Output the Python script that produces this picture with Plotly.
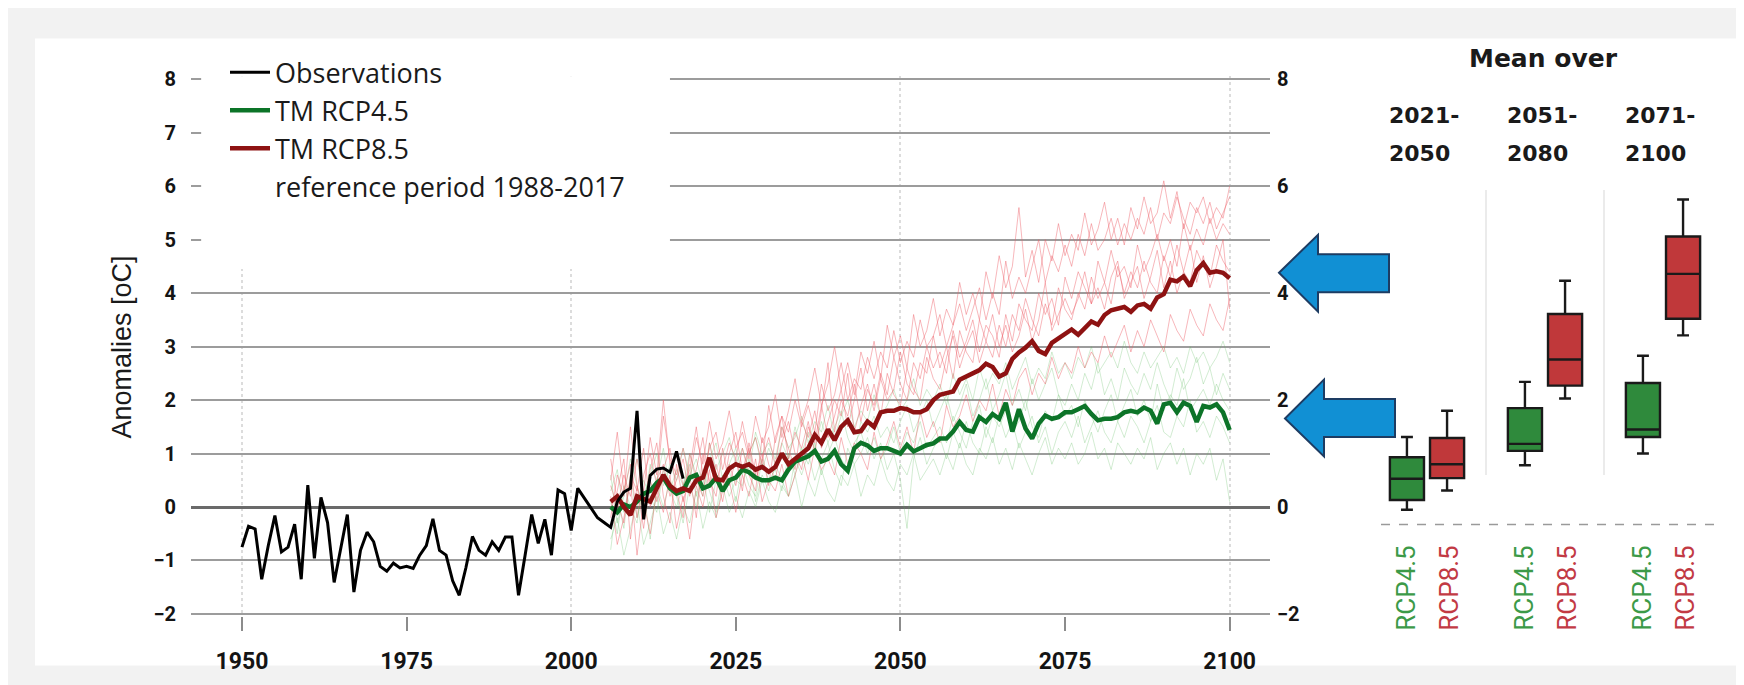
import plotly.graph_objects as go

# ---------------- data ----------------
obs_years = list(range(1950, 2018))
observations = [
    -0.75, -0.36, -0.41, -1.35, -0.72, -0.16, -0.84, -0.75, -0.32, -1.35,
    0.41, -0.96, 0.18, -0.29, -1.41, -0.78, -0.14, -1.59, -0.81, -0.47,
    -0.65, -1.11, -1.20, -1.05, -1.14, -1.11, -1.15, -0.90, -0.72, -0.22,
    -0.81, -0.90, -1.38, -1.65, -1.14, -0.55, -0.81, -0.90, -0.65, -0.81,
    -0.56, -0.56, -1.65, -0.90, -0.14, -0.68, -0.23, -0.90, 0.32, 0.25,
    -0.44, 0.35, 0.16, -0.02, -0.20, -0.29, -0.38, 0.10, 0.28, 0.35,
    1.80, -0.23, 0.59, 0.71, 0.73, 0.65, 1.04, 0.53,
]

proj_years = list(range(2006, 2101))
rcp85_mean = [
    0.10, 0.20, 0.00, -0.15, 0.20, 0.15, 0.10, 0.35, 0.60, 0.40,
    0.30, 0.35, 0.30, 0.50, 0.55, 0.92, 0.52, 0.50, 0.72, 0.80,
    0.75, 0.80, 0.70, 0.75, 0.66, 0.75, 1.00, 0.80, 0.90, 1.00,
    1.10, 1.35, 1.20, 1.45, 1.25, 1.50, 1.62, 1.40, 1.42, 1.60,
    1.50, 1.77, 1.80, 1.80, 1.85, 1.83, 1.77, 1.77, 1.83, 2.00,
    2.10, 2.13, 2.16, 2.38, 2.44, 2.50, 2.56, 2.68, 2.62, 2.44,
    2.50, 2.77, 2.89, 2.98, 3.10, 2.92, 2.86, 3.07, 3.16, 3.25,
    3.32, 3.22, 3.35, 3.47, 3.41, 3.59, 3.68, 3.71, 3.74, 3.65,
    3.77, 3.80, 3.71, 3.92, 3.98, 4.25, 4.22, 4.31, 4.13, 4.43,
    4.56, 4.38, 4.41, 4.38, 4.28,
]
rcp45_mean = [
    0.00, -0.10, 0.05, 0.00, 0.10, 0.25, 0.30, 0.45, 0.55, 0.35,
    0.25, 0.30, 0.55, 0.60, 0.35, 0.40, 0.55, 0.30, 0.50, 0.55,
    0.70, 0.65, 0.55, 0.50, 0.50, 0.55, 0.50, 0.70, 0.85, 0.90,
    0.95, 1.05, 0.85, 0.90, 1.05, 0.80, 0.68, 1.10, 1.20, 1.15,
    1.05, 1.10, 1.10, 1.05, 1.00, 1.16, 1.04, 1.10, 1.16, 1.19,
    1.28, 1.28, 1.41, 1.59, 1.44, 1.41, 1.68, 1.59, 1.74, 1.65,
    1.95, 1.41, 1.83, 1.47, 1.28, 1.56, 1.71, 1.65, 1.68, 1.77,
    1.77, 1.83, 1.89, 1.74, 1.62, 1.65, 1.65, 1.68, 1.77, 1.80,
    1.77, 1.86, 1.80, 1.56, 1.92, 1.95, 1.77, 1.95, 1.89, 1.59,
    1.89, 1.86, 1.92, 1.77, 1.44,
]

# individual model runs (thin lines)
rcp85_run_a = [
    0.5, 1.4, 0.3, 0.8, -0.2, 0.6, 1.0, 0.4, 1.7, 0.9,
    0.6, 1.1, 0.5, 1.3, 0.8, 1.6, 0.9, 1.2, 1.8, 1.1,
    1.4, 0.9, 1.7, 1.2, 1.5, 2.1, 1.3, 1.8, 2.4, 1.6,
    2.0, 2.6, 1.9, 2.3, 3.0, 2.2, 2.7, 2.1, 2.9, 2.5,
    3.1, 2.4, 3.4, 2.8, 3.2, 2.6, 3.6, 3.0, 3.3, 3.9,
    3.2, 3.7, 3.4, 4.2, 3.6, 4.0, 3.5, 4.4, 3.9, 4.7,
    4.1, 4.5, 5.6, 4.3, 4.8, 4.2, 5.0, 4.6, 5.3, 4.7,
    5.1, 4.8, 5.5, 4.9, 5.2, 5.7, 5.0, 5.4, 4.9, 5.6,
    5.2, 5.8, 5.3, 5.5, 6.1, 5.4, 5.9, 5.2, 5.7, 5.5,
    5.8, 5.3, 5.6, 5.4, 6.0,
]
rcp85_run_b = [
    -0.4, 0.3, 0.9, -0.6, 0.4, -0.1, 0.7, 1.2, 0.2, -0.3,
    0.8, 0.1, 0.6, -0.2, 1.0, 0.5, 0.2, 1.1, 0.4, 0.9,
    0.3, 1.2, 0.6, 1.0, 0.4, 1.3, 1.7, 0.9, 1.4, 1.1,
    1.6, 1.0, 1.8, 2.7, 1.4, 2.0, 1.7, 2.3, 1.6, 2.2,
    1.9, 2.5, 2.1, 2.8, 2.3, 2.0, 2.7, 2.4, 3.0, 2.6,
    2.9, 2.5, 3.3, 2.8, 3.1, 3.5, 2.9, 3.4, 3.2, 2.8,
    3.6, 3.1, 3.8, 3.5, 3.3, 4.0, 3.6, 3.9, 3.4, 4.3,
    3.9, 4.4, 4.1, 3.8, 4.6, 4.2, 4.8, 4.3, 4.5, 4.1,
    4.9, 4.4, 4.7, 5.1, 4.6, 5.0, 4.5, 5.3, 4.8, 5.2,
    4.9, 5.4, 5.0, 5.3, 5.1,
]
rcp85_run_c = [
    0.2, -0.7, -0.2, 0.5, -0.9, 0.1, -0.5, 0.3, -0.1, 0.6,
    -0.4, 0.2, -0.6, 0.4, 0.0, 0.7, -0.2, 0.3, 0.5, -0.1,
    0.6, 0.2, 0.9, 0.1, 0.5, 0.3, 0.8, 0.2, 0.6, 1.0,
    0.5, 1.1, 0.7, 0.9, 0.6, 1.3, 0.8, 1.2, 1.0, 0.7,
    1.4, 0.9, 1.2, 1.6, 1.1, 1.5, 1.0, 1.8, 1.3, 1.6,
    1.2, 1.9, 1.5, 1.7, 2.1, 1.6, 2.0, 1.8, 2.3, 1.7,
    2.2, 1.9, 2.4, 2.6, 2.1, 2.5, 2.3, 2.8, 2.4, 2.7,
    2.5, 3.0, 2.6, 2.9, 2.7, 3.2, 2.8, 3.1, 3.4, 2.9,
    3.3, 3.0, 3.5, 3.2, 2.9, 3.6, 3.3, 3.1, 3.7, 3.4,
    3.2, 3.8, 3.5, 3.3, 3.9,
]
rcp85_run_d = [
    0.9, 0.1, -0.3, 0.6, 0.3, 1.1, 0.0, 0.5, 0.8, 0.2,
    0.5, 0.9, 0.2, 0.7, 1.3, 0.4, 0.8, 0.3, 1.0, 1.4,
    0.7, 1.1, 0.5, 0.9, 1.3, 0.8, 1.5, 1.1, 0.7, 1.6,
    1.3, 1.8, 1.1, 1.6, 2.0, 1.7, 2.5, 1.4, 1.9, 2.3,
    1.8, 2.4, 2.0, 2.2, 2.9, 2.3, 2.1, 2.7, 2.5, 3.2,
    2.6, 3.0, 2.4, 3.3, 2.9, 2.7, 3.5, 3.1, 2.8, 3.4,
    3.0, 3.6, 3.3, 3.9, 3.5, 3.2, 3.8, 3.4, 4.1, 3.7,
    3.5, 4.0, 3.7, 4.3, 3.9, 4.2, 3.8, 4.5, 4.0, 4.4,
    4.1, 4.6, 4.2, 4.0, 4.7, 4.3, 4.9, 4.4, 4.2, 4.8,
    4.5, 4.3, 4.9, 4.6, 4.4,
]
rcp85_run_e = [
    -0.2, 0.6, 0.2, 1.5, 0.4, -0.4, 0.5, 0.1, 0.7, 1.1,
    0.3, -0.2, 1.0, 0.5, 0.2, 1.2, 0.6, 0.1, 0.8, 0.4,
    1.1, 0.6, 0.3, 1.3, 0.8, 0.5, 1.2, 1.6, 1.0, 0.7,
    1.5, 1.2, 1.9, 1.3, 1.7, 2.2, 1.5, 2.0, 2.6, 1.8,
    2.3, 1.7, 2.5, 2.1, 1.9, 2.6, 2.2, 2.0, 2.8, 2.4,
    2.2, 2.8, 3.2, 2.6, 3.0, 3.3, 2.7, 3.1, 3.6, 3.0,
    3.4, 2.9, 3.2, 3.7, 3.1, 3.5, 4.2, 3.3, 3.6, 3.9,
    3.6, 3.9, 4.4, 3.8, 4.1, 3.7, 4.3, 4.6, 3.9, 4.2,
    4.5, 3.9, 4.3, 4.8, 4.1, 4.6, 4.0, 4.4, 4.9, 4.2,
    4.7, 4.1, 4.5, 5.0, 3.7,
]
rcp85_run_f = [
    0.4, 0.0, 0.6, 0.2, 0.9, 0.3, 1.3, 0.6, 2.0, 0.8,
    1.0, 0.4, 0.7, 1.5, 0.6, 1.1, 1.4, 0.7, 1.2, 0.9,
    1.6, 1.0, 1.3, 0.8, 1.9, 1.2, 1.7, 1.4, 2.0, 1.5,
    1.9, 1.4, 2.3, 1.8, 2.1, 2.7, 2.0, 2.4, 2.2, 2.8,
    2.4, 2.9, 2.6, 3.3, 2.7, 3.1, 2.8, 3.5, 3.0, 3.2,
    3.6, 3.0, 3.4, 3.8, 3.3, 3.7, 4.1, 3.5, 4.0, 3.6,
    4.6, 3.9, 4.3, 4.0, 4.5, 5.0, 4.2, 4.7, 4.4, 4.9,
    4.5, 5.1, 4.7, 5.3, 4.8, 5.0, 5.4, 4.9, 5.3, 5.0,
    5.4, 5.1, 5.6, 5.0, 5.5, 5.3, 5.8, 5.4, 5.1, 5.6,
    5.3, 5.7, 5.2, 5.5, 5.8,
]
rcp45_run_a = [
    0.3, 0.7, -0.1, 0.5, 0.9, 0.2, 0.6, 1.0, 0.4, 0.8,
    0.5, 1.1, 0.6, 0.9, 0.4, 1.2, 0.7, 1.0, 1.3, 0.8,
    1.1, 0.7, 1.4, 1.0, 1.2, 0.9, 1.5, 1.1, 1.3, 1.7,
    1.2, 1.6, 1.4, 1.9, 1.3, 1.7, 2.0, 1.5, 1.8, 1.6,
    2.1, 1.7, 1.9, 2.2, 1.8, 2.0, 2.4, 1.9, 2.2, 2.0,
    2.3, 1.9, 2.5, 2.1, 2.4, 2.0, 2.6, 2.2, 2.5, 2.3,
    2.7, 2.2, 2.5, 2.8, 2.3, 2.6, 2.4, 2.9, 2.5, 2.7,
    2.4, 2.8, 2.6, 3.0, 2.5, 2.7, 2.9, 2.6, 3.1, 2.7,
    2.5, 2.9, 2.6, 2.8, 3.0, 2.6, 2.8, 2.5, 3.0, 2.7,
    2.9, 2.6, 2.8, 3.1, 2.7,
]
rcp45_run_b = [
    -0.6, -0.2, -0.9, -0.4, 0.1, -0.7, -0.3, 0.2, -0.5, -0.1,
    -0.6, 0.0, -0.3, 0.3, -0.4, 0.1, -0.2, 0.4, -0.1, 0.2,
    -0.2, 0.3, 0.0, 0.5, 0.1, -0.1, 0.4, 0.2, 0.6, 0.0,
    0.5, 0.2, 0.7, 0.3, 0.1, 0.6, 0.4, 0.8, 0.2, 0.6,
    0.4, 0.9, 0.5, 0.3, 0.8, 0.6, 1.0, 0.5, 0.7, 0.9,
    0.6, 1.0, 0.7, 1.2, 0.8, 0.6, 1.1, 0.9, 1.3, 0.8,
    1.1, 0.7, 1.2, 0.9, 0.6, 1.0, 1.3, 0.8, 1.1, 0.9,
    1.2, 0.8, 1.0, 1.4, 0.9, 1.1, 0.7, 1.2, 1.0, 0.8,
    1.1, 0.9, 1.3, 0.7, 1.0, 1.2, 0.8, 1.1, 0.6, 1.0,
    0.8, 1.1, 0.5, 0.9, 0.1,
]
rcp45_run_c = [
    0.1, -0.5, 0.4, 0.0, -0.3, 0.5, 0.2, -0.1, 0.7, 0.3,
    0.0, 0.4, 0.8, 0.2, 0.6, -0.1, 0.5, 0.3, 0.7, 0.1,
    0.8, 0.4, 0.2, 0.9, 0.5, 0.7, 0.3, 1.0, 0.6, 1.1,
    0.8, 1.2, 0.6, 1.0, 1.3, 0.9, 0.7, 1.2, 1.4, 1.0,
    1.3, 0.9, 1.1, 1.5, 1.0, 1.4, 1.2, 1.6, 1.1, 1.3,
    1.5, 1.2, 1.7, 1.4, 1.1, 1.6, 1.9, 1.3, 1.7, 1.5,
    1.8, 1.4, 1.6, 2.0, 1.5, 1.3, 1.8, 1.6, 2.1, 1.7,
    1.9, 1.5, 2.0, 1.7, 1.4, 1.8, 2.1, 1.6, 1.9, 2.2,
    1.7, 2.0, 1.6, 2.3, 1.8, 2.1, 1.9, 2.4, 1.8, 2.0,
    2.2, 1.9, 2.3, 2.0, 1.8,
]
rcp45_run_d = [
    -0.8, 0.2, -0.4, 0.6, -0.2, 0.3, -0.6, 0.4, 0.0, 0.5,
    0.2, -0.3, 0.4, 0.0, 0.7, 0.3, -0.1, 0.6, 0.2, 0.5,
    0.4, 0.9, 0.1, 0.6, 0.3, 0.8, 0.5, 0.2, 0.9, 0.6,
    1.0, 0.5, 0.9, 1.2, 0.7, 0.4, 1.1, 0.8, 1.0, 1.3,
    0.9, 1.2, 0.7, 1.0, 0.5, -0.4, 0.9, 1.3, 0.8, 1.1,
    1.3, 0.9, 1.4, 1.1, 1.6, 1.2, 1.0, 1.5, 1.2, 1.7,
    1.3, 1.6, 1.1, 1.4, 1.7, 1.2, 1.5, 1.0, 1.4, 1.6,
    1.3, 1.7, 1.2, 1.5, 1.8, 1.4, 1.2, 1.6, 1.3, 1.7,
    1.5, 1.2, 1.6, 1.9, 1.4, 1.3, 1.7, 1.5, 2.0, 1.4,
    1.6, 1.3, 1.7, 1.5, 1.2,
]
rcp45_run_e = [
    0.6, -0.3, 0.2, 0.9, 0.4, 0.0, 0.8, 0.5, 1.1, 0.3,
    0.7, 0.4, 1.0, 0.6, 0.2, 0.9, 1.2, 0.5, 0.8, 1.1,
    0.6, 1.0, 1.3, 0.7, 1.1, 0.8, 1.2, 0.9, 1.5, 1.0,
    1.4, 1.1, 1.6, 1.2, 1.5, 1.8, 1.3, 1.0, 1.6, 1.4,
    1.7, 1.3, 1.5, 1.2, 1.6, 1.9, 1.4, 1.7, 2.0, 1.5,
    1.8, 2.1, 1.6, 1.9, 2.3, 1.7, 2.0, 2.4, 1.8, 2.1,
    2.5, 1.9, 2.2, 1.8, 2.4, 2.0, 2.3, 2.6, 2.1, 1.9,
    2.3, 2.0, 2.5, 2.2, 2.7, 2.1, 2.4, 2.0, 2.6, 2.3,
    2.1, 2.5, 2.2, 2.7, 2.3, 2.0, 2.6, 2.2, 2.4, 2.8,
    2.3, 2.6, 2.1, 2.5, 2.2,
]
rcp85_runs = [rcp85_run_a, rcp85_run_b, rcp85_run_c, rcp85_run_d, rcp85_run_e, rcp85_run_f]
rcp45_runs = [rcp45_run_a, rcp45_run_b, rcp45_run_c, rcp45_run_d, rcp45_run_e]

# box panel: mean over three periods (same temperature scale as the main axis)
periods = ["2021-2050", "2051-2080", "2071-2100"]
period_start = ["2021-", "2051-", "2071-"]
period_end = ["2050", "2080", "2100"]
rcp45_low = [-0.05, 0.78, 1.00]
rcp45_q1 = [0.13, 1.05, 1.31]
rcp45_med = [0.53, 1.18, 1.45]
rcp45_q3 = [0.93, 1.85, 2.32]
rcp45_high = [1.31, 2.34, 2.83]
rcp85_low = [0.31, 2.03, 3.21]
rcp85_q1 = [0.54, 2.27, 3.52]
rcp85_med = [0.80, 2.76, 4.36]
rcp85_q3 = [1.29, 3.61, 5.06]
rcp85_high = [1.80, 4.23, 5.75]

x_ticks = [1950, 1975, 2000, 2025, 2050, 2075, 2100]
y_ticks_left = [-2, -1, 0, 1, 2, 3, 4, 5, 6, 7, 8]
y_ticks_right = [-2, 0, 2, 4, 6, 8]

# ---------------- figure ----------------
W, H = 1744, 685


def px(x):
    return x / W


def py(y):
    return 1 - y / H


Y_RANGE = [-2.0 - 2 / 55.1, 8.0 + 3 / 55.1]
Y_DOMAIN = [py(616), py(61)]

fig = go.Figure()

for run in rcp45_runs:
    fig.add_trace(go.Scatter(x=proj_years, y=run, mode="lines",
                             line=dict(color="rgba(95,185,95,0.28)", width=1),
                             showlegend=False, hoverinfo="skip"))
for run in rcp85_runs:
    fig.add_trace(go.Scatter(x=proj_years, y=run, mode="lines",
                             line=dict(color="rgba(238,95,105,0.45)", width=1),
                             showlegend=False, hoverinfo="skip"))

fig.add_trace(go.Scatter(x=proj_years, y=rcp45_mean, mode="lines", name="TM RCP4.5",
                         line=dict(color="#0c7428", width=4.5), legendrank=2))
fig.add_trace(go.Scatter(x=proj_years, y=rcp85_mean, mode="lines", name="TM RCP8.5",
                         line=dict(color="#8e1212", width=4.5), legendrank=3))
fig.add_trace(go.Scatter(x=obs_years, y=observations, mode="lines", name="Observations",
                         line=dict(color="#000000", width=3), legendrank=1, yaxis="y2"))
fig.add_trace(go.Scatter(x=[None], y=[None], mode="lines", name="reference period 1988-2017",
                         line=dict(color="rgba(0,0,0,0)", width=3), legendrank=4, yaxis="y2"))

# box plots
fig.add_trace(go.Box(x=periods, q1=rcp45_q1, median=rcp45_med, q3=rcp45_q3,
                     lowerfence=rcp45_low, upperfence=rcp45_high,
                     xaxis="x3", yaxis="y3", name="RCP4.5", showlegend=False,
                     fillcolor="#2f8a3c", line=dict(color="#1a1a1a", width=2.4),
                     whiskerwidth=0.35, boxpoints=False, hoverinfo="skip"))
fig.add_trace(go.Box(x=periods, q1=rcp85_q1, median=rcp85_med, q3=rcp85_q3,
                     lowerfence=rcp85_low, upperfence=rcp85_high,
                     xaxis="x3", yaxis="y3", name="RCP8.5", showlegend=False,
                     fillcolor="#c0383a", line=dict(color="#1a1a1a", width=2.4),
                     whiskerwidth=0.35, boxpoints=False, hoverinfo="skip"))

tick_font = dict(family="Roboto", size=20, color="#141414", weight=700)

fig.update_layout(
    width=W, height=H,
    margin=dict(l=0, r=0, t=0, b=0),
    paper_bgcolor="#f2f2f2",
    plot_bgcolor="rgba(0,0,0,0)",
    boxmode="group", boxgap=0.32, boxgroupgap=0.15,
    showlegend=True,
    legend=dict(x=px(217), y=py(32), xanchor="left", yanchor="top",
                bgcolor="rgba(0,0,0,0)", borderwidth=0, itemwidth=40,
                font=dict(family="Open Sans", size=27, color="#1a1a1a"),
                tracegroupgap=0),
    xaxis=dict(domain=[px(183), px(1262)], range=[1942.26, 2106.13],
               tickvals=x_ticks, ticks="outside", ticklen=14, tickwidth=2,
               tickcolor="#8c8c8c", showgrid=False, zeroline=False, showline=False,
               tickfont=dict(family="Roboto", size=23, color="#141414", weight=700),
               ticklabelstandoff=10,
               minor=dict(tick0=1950, dtick=50, showgrid=True, gridcolor="#dcdcdc",
                          griddash="dot", gridwidth=1.5, ticks=""),
               anchor="y"),
    yaxis=dict(domain=Y_DOMAIN, range=Y_RANGE,
               tickvals=y_ticks_left, showgrid=True, gridcolor="#9c9c9c", gridwidth=1.6,
               zeroline=True, zerolinecolor="#6a6a6a", zerolinewidth=3.2,
               ticks="", showline=False, tickfont=tick_font, ticklabelstandoff=14,
               anchor="x"),
    yaxis2=dict(overlaying="y", side="right", anchor="x", range=Y_RANGE,
                tickvals=y_ticks_right, showgrid=False, zeroline=False, ticks="",
                showline=False, tickfont=tick_font, ticklabelstandoff=6),
    xaxis3=dict(domain=[px(1360), px(1714)], range=[-0.5, 2.5], visible=False,
                anchor="y3", type="category", categoryarray=periods),
    yaxis3=dict(domain=Y_DOMAIN, range=Y_RANGE, visible=False, anchor="x3"),
)

shapes = [
    # white card
    dict(type="rect", xref="paper", yref="paper", x0=px(27), x1=px(1740),
         y0=py(667), y1=py(22), fillcolor="white", line=dict(width=0), layer="below"),
    # area behind the legend
    dict(type="rect", xref="x", yref="y", x0=1943.8, x1=2015.0, y0=4.45, y1=8.3,
         fillcolor="white", line=dict(width=0), layer="between"),
    # box-panel separators
    dict(type="line", xref="x3", yref="paper", x0=0.5, x1=0.5, y0=py(471), y1=py(178),
         line=dict(color="#e4e4e4", width=1.5), layer="below"),
    dict(type="line", xref="x3", yref="paper", x0=1.5, x1=1.5, y0=py(471), y1=py(178),
         line=dict(color="#e4e4e4", width=1.5), layer="below"),
    # dashed base line in box panel
    dict(type="line", xref="paper", yref="paper", x0=px(1373), x1=px(1713),
         y0=py(522), y1=py(522),
         line=dict(color="#9a9a9a", width=1.5, dash="dash"), layer="below"),
]


def arrow(tip, head_x, head_top, head_bot, sh_top, sh_bot, right):
    pts = [(tip[0], tip[1]), (head_x, head_top), (head_x, sh_top), (right, sh_top),
           (right, sh_bot), (head_x, sh_bot), (head_x, head_bot)]
    d = "M " + " L ".join(f"{px(a):.5f},{py(b):.5f}" for a, b in pts) + " Z"
    return dict(type="path", xref="paper", yref="paper", path=d,
                fillcolor="#1190d4", line=dict(color="#1d3c63", width=2), layer="above")


shapes.append(arrow((1271, 263), 1310, 224, 303, 244, 283, 1381))
shapes.append(arrow((1277, 413), 1316, 373, 452, 393, 432, 1387))
fig.update_layout(shapes=shapes)

annotations = [
    dict(text="Anomalies [oC]", xref="paper", yref="paper", x=px(114), y=py(340),
         xanchor="center", yanchor="middle", textangle=-90, showarrow=False,
         font=dict(family="Liberation Sans", size=27, color="#1a1a1a")),
    dict(text="Mean over", xref="paper", yref="paper", x=px(1535), y=py(43),
         xanchor="center", yanchor="middle", showarrow=False,
         font=dict(family="DejaVu Sans", size=25, color="#1a1a1a", weight=700)),
]
for p, a, b in zip(periods, period_start, period_end):
    for txt, yy in ((a, 101), (b, 140)):
        annotations.append(dict(text=txt, xref="x3", yref="paper", x=p, y=py(yy),
                                xanchor="left", yanchor="middle", xshift=-40,
                                showarrow=False,
                                font=dict(family="DejaVu Sans", size=22, color="#1a1a1a",
                                          weight=700)))
    annotations.append(dict(text="RCP4.5", xref="x3", yref="paper", x=p, y=py(588),
                            xanchor="center", yanchor="middle",
                            xshift=-21, textangle=-90, showarrow=False,
                            font=dict(family="Roboto", size=26, color="#3c9a48")))
    annotations.append(dict(text="RCP8.5", xref="x3", yref="paper", x=p, y=py(588),
                            xanchor="center", yanchor="middle",
                            xshift=22, textangle=-90, showarrow=False,
                            font=dict(family="Roboto", size=26, color="#c23a44")))
fig.update_layout(annotations=annotations)

fig.write_html("out.html")
